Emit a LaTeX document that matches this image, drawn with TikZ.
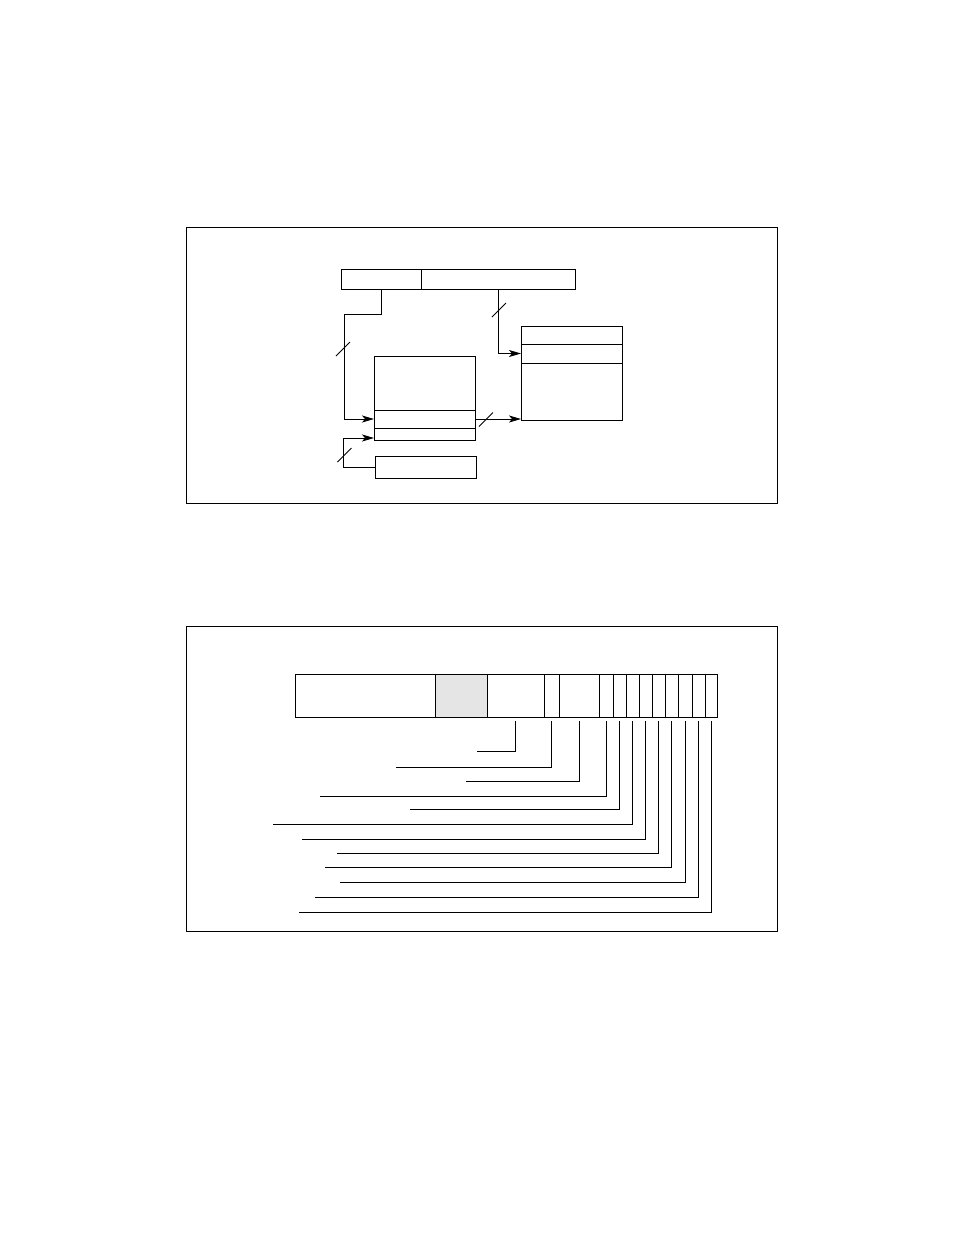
\documentclass[tikz,border=0pt]{standalone}
\usetikzlibrary{arrows.meta}

\begin{document}
\begin{tikzpicture}[x=1pt,y=-1pt,line width=0.9pt,
                >={Stealth[length=12pt,width=7pt,inset=3pt]},
                cell/.style={draw,inner sep=0pt,outer sep=0pt,anchor=north west}]
	\useasboundingbox (0,0) rectangle (954,1235);

	% upper panel
	\draw (186,227) rectangle (777,503);
	\node[cell,minimum width=80pt,minimum height=20pt] (opc) at (341,269) {};
	\node[cell,minimum width=154pt,minimum height=20pt] (addr) at (421,269) {};

	\node[cell,minimum width=101pt,minimum height=54pt] (mem) at (374,356) {};
	\node[cell,minimum width=101pt,minimum height=18pt] (memrow) at (374,410) {};
	\node[cell,minimum width=101pt,minimum height=12pt] (memlow) at (374,428) {};

	\node[cell,minimum width=101pt,minimum height=18pt] (tab) at (521,326) {};
	\node[cell,minimum width=101pt,minimum height=19pt] (tabrow) at (521,344) {};
	\node[cell,minimum width=101pt,minimum height=57pt] (tabbody) at (521,363) {};

	\node[cell,minimum width=101pt,minimum height=22pt] (src) at (375,456) {};

	\draw[->] (opc.south) -- ++(0,25) -| ([xshift=-30pt]memrow.west) -- (memrow.west);
	\draw[->] (addr.south) |- (tabrow.west);
	\draw[->] (memrow.east) -- (memrow.east -| tabbody.west);
	\draw[->] (src.west) -- ++(-32,0) |- ([yshift=-4pt]memlow.west);

	% bus width marks
	\draw (343,349) ++(-7,7) -- ++(14,-14);
	\draw (499,310) ++(-7,7) -- ++(14,-14);
	\draw (486,419.5) ++(-7,7) -- ++(14,-14);
	\draw (344.5,455) ++(-7,7) -- ++(14,-14);

	% lower panel
	\draw (186,626) rectangle (777,931);
	\foreach \a/\b/\f [count=\i] in {295/435/white,435/487/gray!20,487/544/white,
	        544/559/white,559/599/white,599/613/white,613/626/white,626/639/white,
	        639/652/white,652/665/white,665/678/white,678/692/white,692/705/white,
	        705/717/white}
		\node[cell,fill=\f,minimum width={(\b-\a)*1pt},minimum height=43pt] (reg\i) at (\a,674) {};

	\foreach \i/\y/\e in {3/751/477,4/767/396,5/781/466,6/796/320,7/809/410,
	        8/824/273,9/839/302,10/853/337,11/867/325,12/882/340,13/897/315,14/912/299}
	{
		\coordinate (lead\i) at (\e,\y);
		\draw ([yshift=-4pt]reg\i.south) |- (lead\i);
	}
\end{tikzpicture}
\end{document}
